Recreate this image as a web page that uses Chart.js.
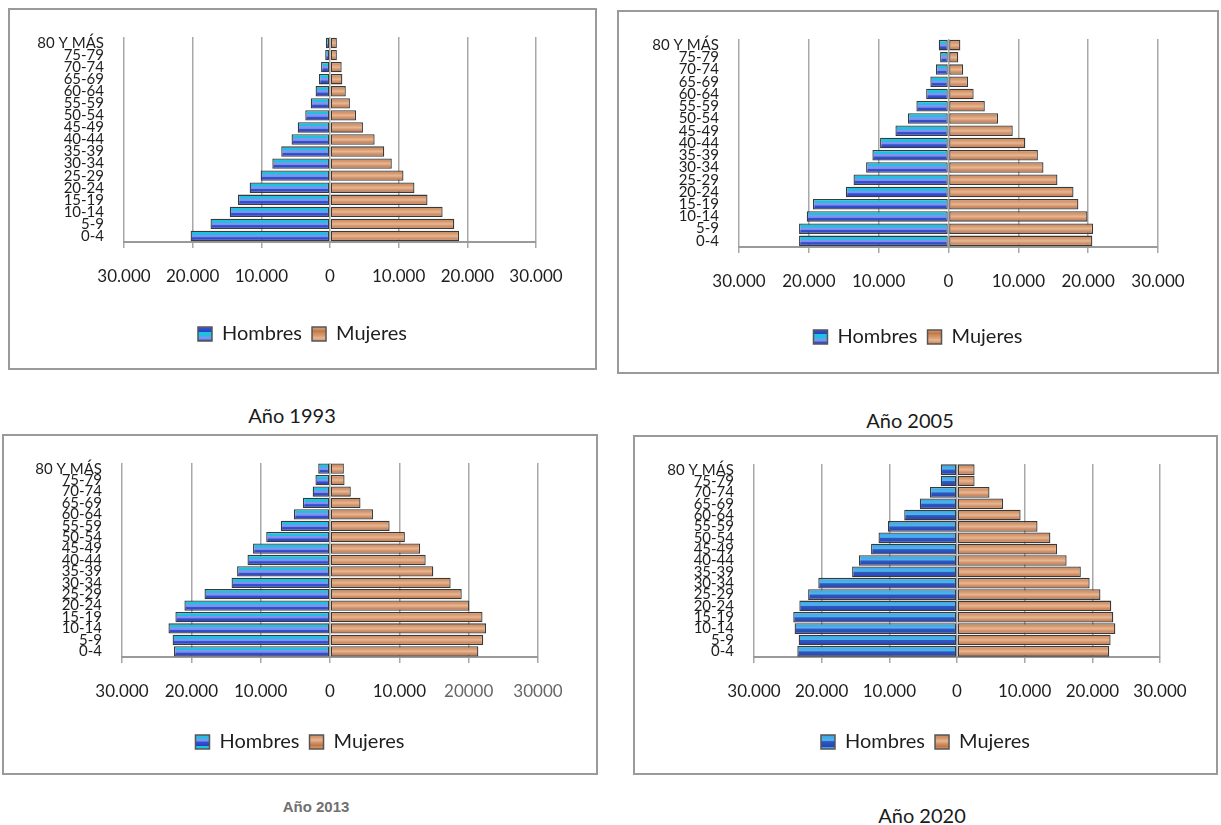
<!DOCTYPE html>
<html>
<head>
<meta charset="utf-8">
<script src="https://cdn.jsdelivr.net/npm/chart.js@4.4.1/dist/chart.umd.min.js"></script>
<style>
  body { margin: 0; background: #fff; width: 1221px; height: 825px; position: relative; overflow: hidden; font-family: Lato, sans-serif; }
  .caja { position: absolute; border: 2px solid #9a9a9a; box-sizing: border-box; }
  canvas { position: absolute; }
  .titulo { position: absolute; transform: translate(-50%, -50%); font-size: 20px; color: #1a1a1a; white-space: nowrap; }
</style>
</head>
<body>
<div class="caja" style="left:8px;top:8px;width:589px;height:362px"></div>
<canvas id="c1993" width="589" height="362" style="left:8px;top:8px"></canvas>
<div class="titulo" style="left:292px;top:415px">Año 1993</div>

<div class="caja" style="left:617px;top:10px;width:602px;height:364px"></div>
<canvas id="c2005" width="602" height="364" style="left:617px;top:10px"></canvas>
<div class="titulo" style="left:910px;top:420px">Año 2005</div>

<div class="caja" style="left:2px;top:434px;width:596px;height:341px"></div>
<canvas id="c2013" width="596" height="341" style="left:2px;top:434px"></canvas>
<div class="titulo" style="left:316px;top:806px;font-family:'Liberation Sans',Arial,sans-serif;font-weight:bold;font-size:15px;color:#707070">Año 2013</div>

<div class="caja" style="left:633px;top:435px;width:585px;height:340px"></div>
<canvas id="c2020" width="585" height="340" style="left:633px;top:435px"></canvas>
<div class="titulo" style="left:922px;top:815px">Año 2020</div>

<script>
// grupos de edad, de abajo hacia arriba
const grupos = ['0-4', '5-9', '10-14', '15-19', '20-24', '25-29', '30-34', '35-39', '40-44',
  '45-49', '50-54', '55-59', '60-64', '65-69', '70-74', '75-79', '80 Y MÁS'];

const hombres1993 = [20300, 17400, 14600, 13400, 11700, 10100, 8400, 7100, 5600, 4700, 3600, 2800, 2100, 1600, 1300, 700, 600];
const mujeres1993 = [18800, 18100, 16400, 14200, 12300, 10700, 9000, 7900, 6500, 4800, 3800, 2900, 2300, 1800, 1700, 1000, 1000];

const hombres2005 = [21400, 21400, 20300, 19400, 14700, 13600, 11800, 10900, 9800, 7600, 5800, 4600, 3200, 2600, 1800, 1200, 1400];
const mujeres2005 = [20600, 20700, 19900, 18600, 17900, 15600, 13600, 12800, 11000, 9200, 7100, 5200, 3600, 2800, 2100, 1400, 1700];

const hombres2013 = [22500, 22700, 23300, 22300, 21000, 18100, 14200, 13400, 11900, 11100, 9200, 7100, 5200, 3900, 2500, 2100, 1700];
const mujeres2013 = [21400, 22100, 22500, 22000, 20100, 19000, 17400, 14900, 13800, 13000, 10800, 8600, 6200, 4400, 3000, 2100, 2000];

const hombres2020 = [23600, 23400, 24000, 24200, 23300, 22000, 20500, 15500, 14500, 12700, 11600, 10200, 7800, 5500, 4000, 2400, 2400];
const mujeres2020 = [22500, 22700, 23400, 23100, 22800, 21200, 19600, 18300, 16200, 14800, 13800, 11900, 9400, 6800, 4800, 2600, 2600];

const ticksX = ['30.000', '20.000', '10.000', '0', '10.000', '20.000', '30.000'];
const ticksX2013 = ['30.000', '20.000', '10.000', '0', '10.000', '20000', '30000'];

// degradados de las barras (estilo Excel)
const azul = [[0, '#1cc6de'], [0.36, '#23bde2'], [0.42, '#8596f0'], [0.6, '#7b8cee'], [0.66, '#3352d2'], [1, '#2a3fbf']];
const azul2020 = [[0, '#3aa4e2'], [0.45, '#4db5ec'], [0.55, '#3056c2'], [1, '#2843ae']];
const cobre = [[0, '#c9834f'], [0.3, '#d99b72'], [0.5, '#e6b793'], [0.72, '#d3916a'], [1, '#ba7444']];

function franjas(stops) {
  const c = document.createElement('canvas');
  c.width = 1; c.height = 12;
  const g = c.getContext('2d');
  const gr = g.createLinearGradient(0, 0, 0, 12);
  stops.forEach(s => gr.addColorStop(s[0], s[1]));
  g.fillStyle = gr;
  g.fillRect(0, 0, 1, 12);
  return g.createPattern(c, 'repeat');
}

function relleno(stops, pct) {
  const patron = franjas(stops);
  return function(ctx) {
    const y = ctx.chart.scales.y;
    if (ctx.type !== 'data' || !y) return patron;
    const yc = y.getPixelForValue(ctx.dataIndex);
    const h = y.height / grupos.length * pct;
    if (!isFinite(yc) || !isFinite(h) || h <= 0) return patron;
    const g = ctx.chart.ctx.createLinearGradient(0, yc - h / 2, 0, yc + h / 2);
    stops.forEach(s => g.addColorStop(s[0], s[1]));
    return g;
  };
}

function piramide(id, hombres, mujeres, etiquetasX, geo) {
  const colH = geo.azul || azul;
  const pct = geo.pct || 0.86;
  const leyenda = [franjas(colH), franjas(cobre)];
  new Chart(document.getElementById(id), {
    type: 'bar',
    data: {
      labels: grupos,
      datasets: [
        { label: 'Hombres', data: hombres.map(v => -v), backgroundColor: relleno(colH, pct),
          borderColor: '#3a3a3a', borderWidth: 1.3, borderSkipped: false, xAxisID: 'x', yAxisID: 'y' },
        { label: 'Mujeres', data: mujeres, backgroundColor: relleno(cobre, pct),
          borderColor: '#3a3a3a', borderWidth: 1.3, borderSkipped: false, xAxisID: 'x', yAxisID: 'y' }
      ]
    },
    options: {
      indexAxis: 'y',
      responsive: false,
      animation: false,
      layout: { padding: { top: geo.top, right: 0, bottom: geo.bottom, left: 0 } },
      datasets: { bar: { categoryPercentage: pct, barPercentage: 1 } },
      scales: {
        x: {
          stacked: true, min: -30000, max: 30000,
          ticks: {
            stepSize: 10000, padding: 18, maxRotation: 0,
            font: { family: 'Lato', size: 17 },
            color: c => (geo.grisDerecha && c.index > 4) ? '#666' : '#1e1e1e',
            callback: (v, i) => etiquetasX[i]
          },
          grid: { color: '#a8a8a8', lineWidth: 1.5, tickLength: 6 },
          border: { color: '#9a9a9a', width: 2 },
          afterFit: s => { s.height = geo.ejeX; }
        },
        y: {
          stacked: true, reverse: true,
          ticks: { autoSkip: false, padding: 20, color: '#1e1e1e', font: { family: 'Lato', size: 15 } },
          grid: { display: false, drawTicks: false },
          border: { display: false },
          afterFit: s => { s.width = geo.left; }
        },
        // margen derecho vacío, para que la leyenda quede centrada en el recuadro
        margen: {
          type: 'linear', position: 'right', axis: 'y',
          ticks: { display: false },
          grid: { display: false, drawTicks: false },
          border: { display: false },
          afterFit: s => { s.width = geo.right; }
        }
      },
      plugins: {
        tooltip: { enabled: false },
        legend: {
          position: 'bottom',
          labels: {
            padding: 10, boxWidth: 14, boxHeight: 14, color: '#1e1e1e',
            font: { family: 'Lato', size: 20 },
            generateLabels: chart => Chart.defaults.plugins.legend.labels.generateLabels(chart)
              .map((it, i) => Object.assign(it, { fillStyle: leyenda[i], strokeStyle: '#555', lineWidth: 1.5 }))
          }
        }
      }
    }
  });
}

piramide('c1993', hombres1993, mujeres1993, ticksX, { left: 116, right: 61, top: 28, bottom: 16, ejeX: 72 });
piramide('c2005', hombres2005, mujeres2005, ticksX, { left: 122, right: 61, top: 26, bottom: 17, ejeX: 70 });
piramide('c2013', hombres2013, mujeres2013, ticksX2013, { left: 120, right: 60, top: 27, bottom: 13, ejeX: 65, grisDerecha: true, pct: 0.9 });
piramide('c2020', hombres2020, mujeres2020, ticksX, { left: 121, right: 58, top: 27, bottom: 13, ejeX: 65, azul: azul2020, pct: 0.94 });
</script>
</body>
</html>
